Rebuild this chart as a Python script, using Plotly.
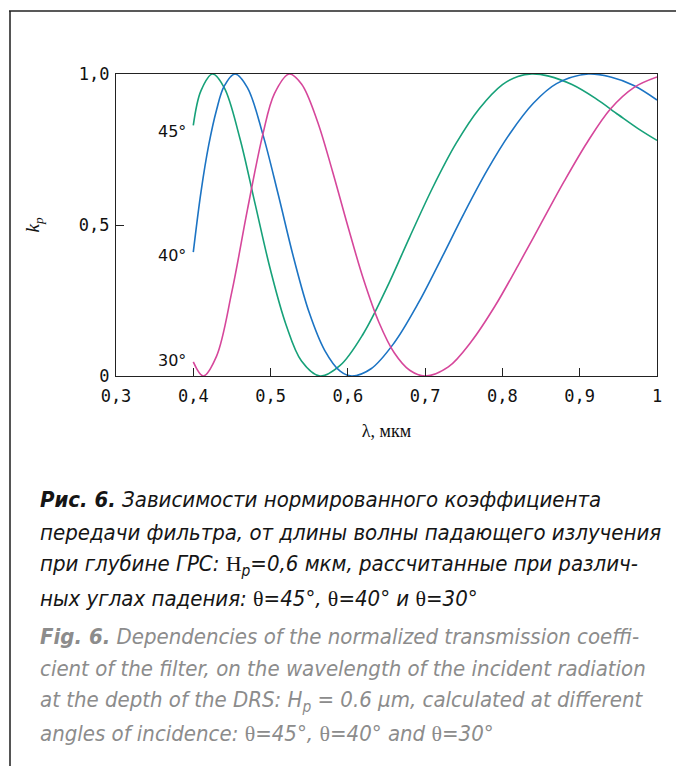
import plotly.graph_objects as go

# ---- data ----
lam_45 = [0.40, 0.41, 0.425, 0.44, 0.46, 0.48, 0.50, 0.52, 0.54, 0.564, 0.59, 0.62, 0.65, 0.68, 0.71, 0.74, 0.77, 0.80, 0.82, 0.838, 0.86, 0.89, 0.92, 0.95, 0.975, 1.0]
k_45 = [0.83, 0.945, 1.0, 0.955, 0.79, 0.57, 0.35, 0.17, 0.05, 0.0, 0.035, 0.14, 0.29, 0.46, 0.625, 0.77, 0.885, 0.965, 0.992, 1.0, 0.993, 0.965, 0.92, 0.865, 0.82, 0.78]

lam_40 = [0.40, 0.41, 0.42, 0.43, 0.44, 0.454, 0.47, 0.49, 0.51, 0.53, 0.55, 0.57, 0.59, 0.605, 0.63, 0.66, 0.69, 0.72, 0.75, 0.78, 0.81, 0.84, 0.87, 0.911, 0.94, 0.97, 1.0]
k_40 = [0.41, 0.61, 0.765, 0.88, 0.96, 1.0, 0.955, 0.80, 0.60, 0.39, 0.21, 0.085, 0.016, 0.0, 0.024, 0.11, 0.236, 0.384, 0.537, 0.68, 0.804, 0.903, 0.968, 1.0, 0.99, 0.962, 0.914]

lam_30 = [0.40, 0.413, 0.43, 0.45, 0.47, 0.49, 0.505, 0.524, 0.54, 0.56, 0.58, 0.60, 0.62, 0.64, 0.66, 0.68, 0.70, 0.73, 0.76, 0.79, 0.82, 0.85, 0.88, 0.91, 0.94, 0.97, 1.0]
k_30 = [0.047, 0.0, 0.065, 0.28, 0.55, 0.80, 0.935, 1.0, 0.967, 0.848, 0.679, 0.496, 0.322, 0.179, 0.077, 0.019, 0.0, 0.03, 0.115, 0.23, 0.365, 0.505, 0.645, 0.775, 0.885, 0.955, 0.99]

series_names = ["45°", "40°", "30°"]
series_colors = ["#17a179", "#1c74c4", "#d6479b"]
label_y = [0.81, 0.40, 0.05]

x_ticks = [0.3, 0.4, 0.5, 0.6, 0.7, 0.8, 0.9, 1.0]
x_tick_text = ["0,3", "0,4", "0,5", "0,6", "0,7", "0,8", "0,9", "1"]
y_ticks = [0, 0.5, 1.0]
y_tick_text = ["0", "0,5", "1,0"]

SER = "<span style=\"font-family:Liberation Serif;font-style:normal\">%s</span>"
caption_ru = [
    "<b>Рис. 6.</b> Зависимости нормированного коэффициента",
    "передачи фильтра, от длины волны падающего излучения",
    "при глубине ГРС: " + SER % "H" + "<sub>p</sub>=0,6 мкм, рассчитанные при различ-",
    "ных углах падения: " + SER % "θ" + "=45°, " + SER % "θ" + "=40° и " + SER % "θ" + "=30°",
]
caption_en = [
    "<b>Fig. 6.</b> Dependencies of the normalized transmission coeffi-",
    "cient of the filter, on the wavelength of the incident radiation",
    "at the depth of the DRS: H<sub>p</sub> = 0.6 μm, calculated at different",
    "angles of incidence: " + SER % "θ" + "=45°, " + SER % "θ" + "=40° and " + SER % "θ" + "=30°",
]

# ---- layout geometry (reference pixels; page body has an 8px margin) ----
OFF = 8
W, H = 684 - OFF, 766 - OFF
L, R, T, B = 116, 657, 74, 376
pw, ph = R - L, B - T


def px(x):
    return (x - L) / pw


def py(y):
    return (B - y) / ph


fig = go.Figure()
for lam, k, name, col in zip([lam_45, lam_40, lam_30], [k_45, k_40, k_30], series_names, series_colors):
    fig.add_trace(go.Scatter(x=lam, y=k, mode="lines", name=name,
                             line=dict(color=col, width=1.6, shape="spline", smoothing=1.0),
                             showlegend=False, hoverinfo="skip"))

for name, yl in zip(series_names, label_y):
    fig.add_annotation(x=0.3935, y=yl, xref="x", yref="y", text=name, showarrow=False,
                       xanchor="right", yanchor="middle",
                       font=dict(family="DejaVu Sans", size=16, color="#111"))

cap_font = "Liberation Sans Narrow, DejaVu Sans Condensed, Noto Sans"
for i, t in enumerate(caption_ru):
    fig.add_annotation(x=px(38), y=py(499 + i * 33.3), xref="paper", yref="paper", text=t,
                       showarrow=False, xanchor="left", yanchor="middle",
                       font=dict(family=cap_font, size=22, color="#151515", style="italic"))
for i, t in enumerate(caption_en):
    fig.add_annotation(x=px(38), y=py(636 + i * 32.5), xref="paper", yref="paper", text=t,
                       showarrow=False, xanchor="left", yanchor="middle",
                       font=dict(family=cap_font, size=22, color="#8c8c8c", style="italic"))

# outer frame lines
fig.add_shape(type="line", xref="paper", yref="paper", x0=px(10), x1=px(10), y0=py(11), y1=py(H + OFF + 4),
              line=dict(color="#555", width=2))
fig.add_shape(type="line", xref="paper", yref="paper", x0=px(9), x1=px(W + OFF + 4), y0=py(11), y1=py(11),
              line=dict(color="#222", width=1.5))

fig.update_layout(
    width=W, height=H,
    margin=dict(l=L - OFF, r=W - (R - OFF), t=T - OFF, b=H - (B - OFF)),
    paper_bgcolor="white", plot_bgcolor="white",
    xaxis=dict(range=[0.3, 1.0], tickvals=x_ticks, ticktext=x_tick_text,
               showgrid=False, zeroline=False, showline=True, mirror=True,
               linecolor="#222", linewidth=1.2, ticks="inside", ticklen=8, tickcolor="#222",
               ticklabelstandoff=4,
               tickfont=dict(family="DejaVu Sans Mono", size=17, color="#111"),
               title=dict(text="λ, мкм", font=dict(family="Liberation Serif", size=18, color="#111"), standoff=19)),
    yaxis=dict(range=[0, 1.0], tickvals=y_ticks, ticktext=y_tick_text,
               showgrid=False, zeroline=False, showline=True, mirror=True,
               linecolor="#222", linewidth=1.2, ticks="inside", ticklen=8, tickcolor="#222",
               ticklabelstandoff=2,
               tickfont=dict(family="DejaVu Sans Mono", size=17, color="#111"),
               title=dict(text="<i>k</i><sub><i>p</i></sub>", font=dict(family="Liberation Serif", size=19, color="#111"), standoff=34)),
)

fig.write_html("out.html")
